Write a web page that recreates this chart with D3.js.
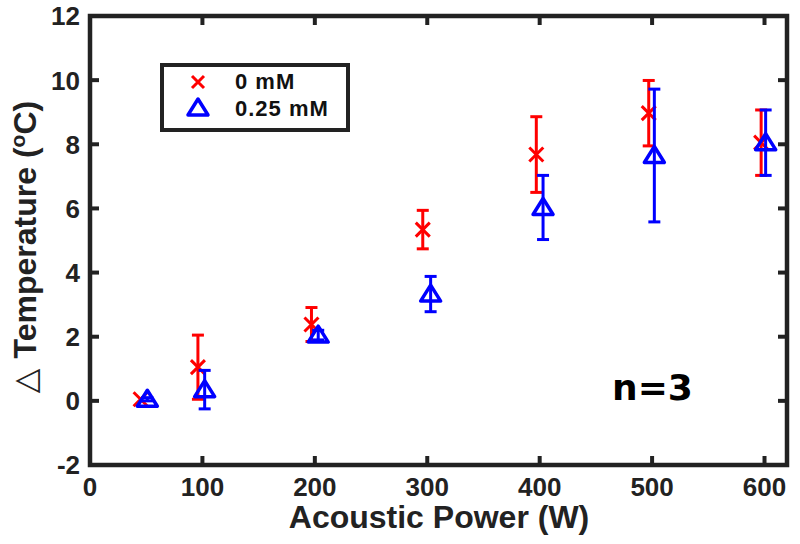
<!DOCTYPE html>
<html lang="en">
<head>
  <meta charset="utf-8">
  <title>Temperature vs Acoustic Power</title>
  <script src="https://d3js.org/d3.v7.min.js"></script>
  <style>
  body {
    margin: 0;
    background: white;
    font-family: "Liberation Sans", Arial, sans-serif;
  }
  .tick-label {
    font-size: 26px;
    font-weight: bold;
    fill: #222;
  }
  .axis-title {
    font-size: 32px;
    font-weight: bold;
    fill: #222;
  }
  .legend-text {
    font-size: 22px;
    font-weight: bold;
    letter-spacing: 1px;
    fill: #111;
  }
  </style>
</head>
<body>
<script>

// Data
var xTicks = [0, 100, 200, 300, 400, 500, 600];
var yTicks = [-2, 0, 2, 4, 6, 8, 10, 12];

var seriesNames = ["0 mM", "0.25 mM"];

// 0 mM (red crosses), drawn slightly left of nominal power
var powerRed = [45, 96, 197, 296, 397, 497, 597];
var meanRed = [0.05, 1.05, 2.38, 5.34, 7.68, 8.97, 8.05];
var errRed = [0, 1.0, 0.53, 0.6, 1.18, 1.02, 1.02];

// 0.25 mM (blue triangles), drawn slightly right
var powerBlue = [51, 102, 203, 303, 403, 502, 601];
var meanBlue = [0.05, 0.35, 2.05, 3.33, 6.03, 7.65, 8.05];
var errBlue = [0.05, 0.6, 0.15, 0.55, 1.0, 2.07, 1.02];

// Display constants
var width = 800;
var height = 544;
var plotLeft = 90, plotRight = 787, plotTop = 16, plotBottom = 465;
var axisColor = "#222";

var x = d3.scaleLinear().domain([0, 620]).range([plotLeft, plotRight]);
var y = d3.scaleLinear().domain([-2, 12]).range([plotBottom, plotTop]);

var svg = d3.select("body")
  .append("svg")
  .attr("width", width)
  .attr("height", height);

function makeSeries(px, mean, err) {
  return px.map(function(p, i) {
    return {x: p, y: mean[i], e: err[i]};
  });
}
var red = makeSeries(powerRed, meanRed, errRed);
var blue = makeSeries(powerBlue, meanBlue, errBlue);

// Axis frame with ticks on all sides (drawn by hand)
var frame = svg.append("g").attr("class", "frame");
var tickLen = 9;

xTicks.forEach(function(t) {
  frame.append("line")
    .attr("x1", x(t)).attr("x2", x(t))
    .attr("y1", plotBottom).attr("y2", plotBottom - tickLen)
    .attr("stroke", axisColor).attr("stroke-width", 4);
  frame.append("line")
    .attr("x1", x(t)).attr("x2", x(t))
    .attr("y1", plotTop).attr("y2", plotTop + tickLen)
    .attr("stroke", axisColor).attr("stroke-width", 4);
  svg.append("text")
    .attr("class", "tick-label")
    .attr("x", x(t))
    .attr("y", 496)
    .attr("text-anchor", "middle")
    .text(t);
});

yTicks.forEach(function(t) {
  frame.append("line")
    .attr("x1", plotLeft).attr("x2", plotLeft + tickLen)
    .attr("y1", y(t)).attr("y2", y(t))
    .attr("stroke", axisColor).attr("stroke-width", 4);
  frame.append("line")
    .attr("x1", plotRight).attr("x2", plotRight - tickLen)
    .attr("y1", y(t)).attr("y2", y(t))
    .attr("stroke", axisColor).attr("stroke-width", 4);
  svg.append("text")
    .attr("class", "tick-label")
    .attr("x", 80)
    .attr("y", y(t))
    .attr("dy", "0.36em")
    .attr("text-anchor", "end")
    .text(t);
});

frame.append("rect")
  .attr("x", plotLeft).attr("y", plotTop)
  .attr("width", plotRight - plotLeft).attr("height", plotBottom - plotTop)
  .attr("fill", "none")
  .attr("stroke", axisColor)
  .attr("stroke-width", 4.5);

// Axis titles
svg.append("text")
  .attr("class", "axis-title")
  .attr("x", 439)
  .attr("y", 528)
  .attr("text-anchor", "middle")
  .text("Acoustic Power (W)");

var yTitle = svg.append("text")
  .attr("class", "axis-title")
  .attr("transform", "translate(36,247) rotate(-90)")
  .attr("text-anchor", "middle");
yTitle.append("tspan").attr("font-weight", "normal").attr("font-family", "DejaVu Sans").text("\u25B3 ");
yTitle.append("tspan").text("Temperature (");
yTitle.append("tspan").attr("font-size", "21px").attr("dy", "-11").text("o");
yTitle.append("tspan").attr("dy", "11").text("C)");

// Error bars
function drawErrors(data, color) {
  var g = svg.append("g");
  var cap = 6;
  data.forEach(function(d) {
    if (d.e <= 0) return;
    g.append("line")
      .attr("x1", x(d.x)).attr("x2", x(d.x))
      .attr("y1", y(d.y - d.e)).attr("y2", y(d.y + d.e))
      .attr("stroke", color).attr("stroke-width", 3);
    [d.y - d.e, d.y + d.e].forEach(function(v) {
      g.append("line")
        .attr("x1", x(d.x) - cap).attr("x2", x(d.x) + cap)
        .attr("y1", y(v)).attr("y2", y(v))
        .attr("stroke", color).attr("stroke-width", 3);
    });
  });
}

var crossPath = "M-7,-7L7,7M-7,7L7,-7";
var triPath = "M0,-9L10,7L-10,7Z";

drawErrors(red, "#ff0000");
svg.append("g").selectAll("path")
  .data(red)
  .enter().append("path")
  .attr("d", crossPath)
  .attr("transform", function(d) { return "translate(" + x(d.x) + "," + y(d.y) + ")"; })
  .attr("fill", "none")
  .attr("stroke", "#ff0000")
  .attr("stroke-width", 3);

drawErrors(blue, "#0000ff");
svg.append("g").selectAll("path")
  .data(blue)
  .enter().append("path")
  .attr("d", triPath)
  .attr("transform", function(d) { return "translate(" + x(d.x) + "," + y(d.y) + ")"; })
  .attr("fill", "none")
  .attr("stroke", "#0000ff")
  .attr("stroke-width", 3.5)
  .attr("stroke-linejoin", "round");

// Legend
var legend = svg.append("g").attr("class", "legend");
legend.append("rect")
  .attr("x", 162).attr("y", 65)
  .attr("width", 186).attr("height", 65)
  .attr("fill", "white")
  .attr("stroke", axisColor)
  .attr("stroke-width", 4);

legend.append("path")
  .attr("d", "M-6,-6L6,6M-6,6L6,-6")
  .attr("transform", "translate(198,82)")
  .attr("fill", "none").attr("stroke", "#ff0000").attr("stroke-width", 3);
legend.append("path")
  .attr("d", triPath)
  .attr("transform", "translate(198,108)")
  .attr("fill", "none").attr("stroke", "#0000ff").attr("stroke-width", 3.5)
  .attr("stroke-linejoin", "round");

legend.append("text").attr("class", "legend-text")
  .attr("x", 235).attr("y", 89).text(seriesNames[0]);
legend.append("text").attr("class", "legend-text")
  .attr("x", 235).attr("y", 116).text(seriesNames[1]);

// Sample count annotation
svg.append("text")
  .attr("x", 612)
  .attr("y", 400)
  .attr("font-family", "DejaVu Sans")
  .attr("font-weight", "bold")
  .attr("font-size", "36px")
  .attr("fill", "#000")
  .text("n=3");

</script>
</body>
</html>
